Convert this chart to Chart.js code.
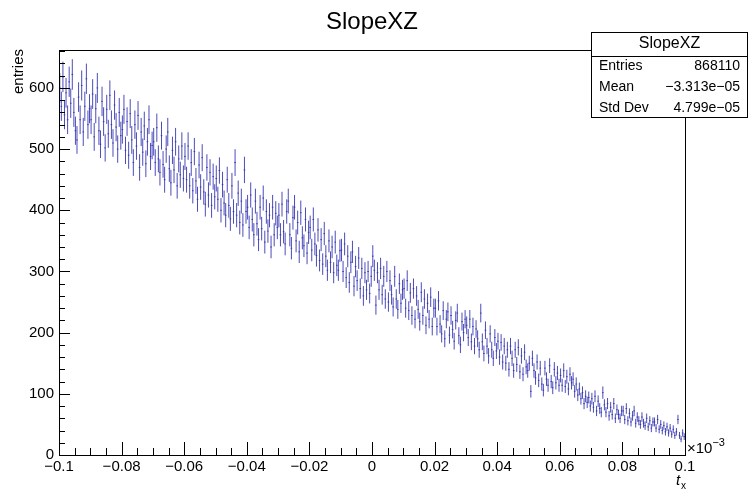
<!DOCTYPE html>
<html>
<head>
<meta charset="utf-8">
<script src="https://cdn.jsdelivr.net/npm/chart.js@4/dist/chart.umd.min.js"></script>
<style>
  html, body { margin: 0; padding: 0; background: #fff; }
  #c { display: block; }
</style>
</head>
<body>
<canvas id="c" width="748" height="490"></canvas>
<script>
// histogram SlopeXZ, x in units of 1e-3, 400 bins
const xLow = -0.1;
const xHigh = 0.1;
const binCounts = [
  600, 570, 618, 556, 592, 548, 610, 575, 622, 560, 530, 515, 585, 548, 604, 528, 570, 615, 540, 566,
  548, 590, 520, 566, 600, 530, 508, 578, 545, 502, 565, 525, 588, 540, 510, 572, 536, 500, 560, 522,
  532, 565, 498, 545, 490, 558, 515, 478, 540, 505, 555, 470, 528, 495, 538, 476, 512, 548, 488, 506,
  512, 478, 535, 484, 462, 522, 475, 450, 500, 528, 468, 445, 498, 466, 512, 440, 484, 458, 505, 452,
  488, 450, 505, 440, 478, 432, 496, 448, 418, 474, 438, 486, 430, 410, 470, 425, 462, 408, 455, 422,
  452, 418, 465, 400, 442, 412, 392, 450, 408, 386, 440, 398, 478, 392, 428, 380, 415, 376, 466, 398,
  405, 372, 425, 385, 360, 415, 378, 352, 405, 370, 420, 348, 398, 366, 392, 340, 405, 360, 395, 372,
  392, 360, 410, 365, 345, 398, 415, 360, 338, 388, 405, 350, 380, 332, 396, 355, 342, 385, 330, 364,
  372, 335, 385, 345, 326, 368, 318, 352, 312, 362, 325, 302, 350, 315, 340, 298, 348, 310, 302, 334,
  335, 300, 345, 290, 325, 282, 315, 332, 276, 308, 285, 322, 272, 305, 260, 298, 270, 300, 264, 292,
  325, 302, 245, 298, 270, 305, 262, 292, 255, 300, 250, 285, 262, 242, 292, 255, 238, 280, 248, 270,
  272, 240, 285, 236, 265, 228, 272, 222, 260, 238, 218, 266, 228, 255, 212, 248, 222, 258, 210, 240,
  240, 210, 252, 214, 198, 236, 190, 222, 234, 196, 228, 205, 186, 220, 232, 195, 180, 218, 200, 222,
  212, 192, 222, 185, 210, 178, 206, 190, 172, 232, 185, 166, 204, 178, 162, 198, 172, 158, 192, 170,
  186, 160, 184, 152, 178, 150, 172, 140, 178, 158, 138, 172, 148, 176, 136, 162, 132, 168, 144, 138,
  150, 104, 158, 138, 126, 152, 122, 142, 116, 106, 142, 124, 114, 146, 120, 110, 140, 118, 134, 114,
  130, 114, 138, 112, 128, 108, 132, 118, 124, 104, 116, 98, 108, 92, 102, 84, 96, 86, 94, 80,
  92, 78, 96, 72, 88, 76, 70, 102, 82, 70, 84, 64, 78, 66, 84, 60, 74, 66, 60, 72,
  72, 58, 76, 56, 68, 54, 64, 72, 52, 62, 56, 50, 62, 52, 48, 60, 46, 56, 44, 54,
  54, 44, 58, 42, 50, 40, 48, 38, 46, 36, 44, 34, 42, 32, 38, 58, 32, 26, 36, 30
];
const xTicks = [-0.1, -0.08, -0.06, -0.04, -0.02, 0, 0.02, 0.04, 0.06, 0.08, 0.1];
const yTicks = [0, 100, 200, 300, 400, 500, 600];
const yMax = 662;
const statsLabels = ['Entries', 'Mean', 'Std Dev'];
const statsValues = ['868110', '\u22123.313e\u221205', '4.799e\u221205'];

const FONT = '"Liberation Sans", Arial, sans-serif';
const binW = (xHigh - xLow) / binCounts.length;
const points = binCounts.map((v, i) => ({ x: xLow + (i + 0.5) * binW, y: v }));

function fmt(v) {
  let s = (Math.round(v * 100) / 100).toString();
  return s.replace('-', '\u2212');
}

const rootPlugin = {
  id: 'rootLook',
  afterDatasetsDraw(chart) {
    const ctx = chart.ctx;
    const xs = chart.scales.x, ys = chart.scales.y;
    ctx.save();
    ctx.strokeStyle = 'rgba(45,45,175,0.85)';
    ctx.lineWidth = 1;
    points.forEach(p => {
      const e = Math.sqrt(p.y);
      const px = xs.getPixelForValue(p.x);
      const y1 = ys.getPixelForValue(p.y - e);
      const y2 = ys.getPixelForValue(p.y + e);
      const yc = ys.getPixelForValue(p.y);
      ctx.beginPath();
      ctx.moveTo(px, y1);
      ctx.lineTo(px, y2);
      ctx.moveTo(px - 0.8, yc);
      ctx.lineTo(px + 0.8, yc);
      ctx.stroke();
    });
    ctx.restore();
  },
  afterDraw(chart) {
    const ctx = chart.ctx;
    const a = chart.chartArea;
    const xs = chart.scales.x, ys = chart.scales.y;
    ctx.save();
    // frame
    ctx.strokeStyle = '#000';
    ctx.lineWidth = 1;
    ctx.strokeRect(Math.round(a.left) + 0.5, Math.round(a.top) + 0.5,
      Math.round(a.right - a.left), Math.round(a.bottom - a.top));
    // x ticks
    ctx.beginPath();
    for (let k = 0; k <= 40; k++) {
      const v = xLow + k * 0.005;
      const px = Math.round(xs.getPixelForValue(v)) + 0.5;
      const len = (k % 4 === 0) ? 13 : 7;
      ctx.moveTo(px, a.bottom);
      ctx.lineTo(px, a.bottom - len);
    }
    // y ticks
    for (let v = 0; v <= 660; v += 20) {
      const py = Math.round(ys.getPixelForValue(v)) + 0.5;
      const len = (v % 100 === 0) ? 11 : 6;
      ctx.moveTo(a.left, py);
      ctx.lineTo(a.left + len, py);
    }
    ctx.stroke();

    ctx.fillStyle = '#000';
    // title
    ctx.font = '24px ' + FONT;
    ctx.textAlign = 'center';
    ctx.textBaseline = 'alphabetic';
    ctx.fillText('SlopeXZ', 372, 29);

    // y title
    ctx.save();
    ctx.translate(23, 49);
    ctx.rotate(-Math.PI / 2);
    ctx.font = '15px ' + FONT;
    ctx.textAlign = 'right';
    ctx.fillText('entries', 0, 0);
    ctx.restore();

    // x title t_x
    ctx.textAlign = 'left';
    ctx.font = 'italic 15px ' + FONT;
    ctx.fillText('t', 676, 485);
    ctx.font = '10px ' + FONT;
    ctx.fillText('x', 681, 489);

    // exponent x10^-3
    ctx.font = '15px ' + FONT;
    ctx.fillText('\u00d710', 687, 453);
    const w = ctx.measureText('\u00d710').width;
    ctx.font = '11px ' + FONT;
    ctx.fillText('\u22123', 687 + w, 446);

    // stats box
    const bx = 591.5, by = 32.5, bw = 156, bh = 85;
    ctx.fillStyle = '#fff';
    ctx.fillRect(bx, by, bw, bh);
    ctx.strokeStyle = '#000';
    ctx.strokeRect(bx, by, bw, bh);
    ctx.beginPath();
    ctx.moveTo(bx, 56.5);
    ctx.lineTo(bx + bw, 56.5);
    ctx.stroke();
    ctx.fillStyle = '#000';
    ctx.font = '16px ' + FONT;
    ctx.textAlign = 'center';
    ctx.textBaseline = 'middle';
    ctx.fillText('SlopeXZ', bx + bw / 2, 44);
    ctx.font = '14px ' + FONT;
    const rowY = [66, 87, 108];
    statsLabels.forEach((lab, i) => {
      ctx.textAlign = 'left';
      ctx.fillText(lab, 599, rowY[i]);
      ctx.textAlign = 'right';
      ctx.fillText(statsValues[i], 740, rowY[i]);
    });
    ctx.restore();
  }
};

new Chart(document.getElementById('c'), {
  type: 'scatter',
  data: {
    datasets: [{
      label: 'SlopeXZ',
      data: points,
      pointRadius: 0,
      pointHoverRadius: 0,
      showLine: false
    }]
  },
  options: {
    responsive: false,
    animation: false,
    devicePixelRatio: 1,
    layout: { padding: { top: 50, right: 63, left: 0, bottom: 0 } },
    plugins: {
      legend: { display: false },
      title: { display: false },
      tooltip: { enabled: false }
    },
    scales: {
      x: {
        type: 'linear',
        min: xLow,
        max: xHigh,
        afterBuildTicks: s => { s.ticks = xTicks.map(v => ({ value: v })); },
        afterFit: s => { s.height = 35; },
        grid: { display: false, drawTicks: false },
        border: { display: false },
        ticks: {
          font: { family: FONT, size: 15 },
          color: '#000',
          padding: 3,
          maxRotation: 0,
          autoSkip: false,
          callback: v => fmt(v)
        }
      },
      y: {
        type: 'linear',
        min: 0,
        max: yMax,
        afterBuildTicks: s => { s.ticks = yTicks.map(v => ({ value: v })); },
        afterFit: s => { s.width = 59; },
        grid: { display: false, drawTicks: false },
        border: { display: false },
        ticks: {
          font: { family: FONT, size: 15 },
          color: '#000',
          padding: 5,
          callback: v => String(v)
        }
      }
    }
  },
  plugins: [rootPlugin]
});
</script>
</body>
</html>
